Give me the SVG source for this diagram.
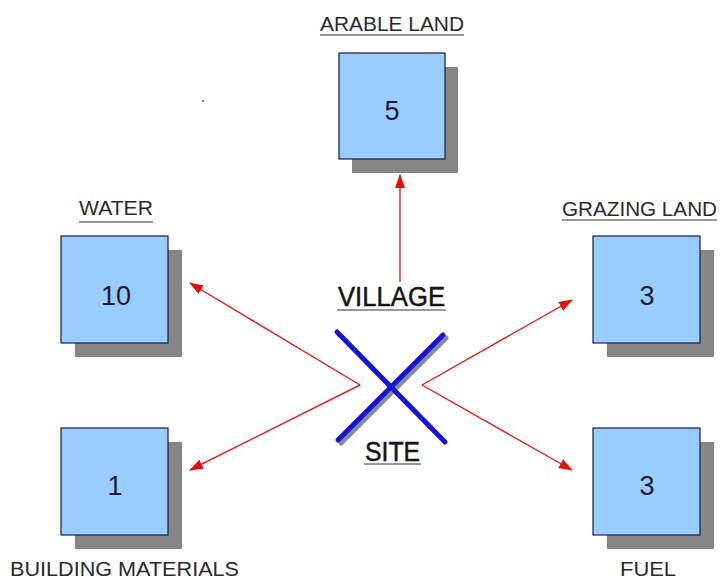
<svg xmlns="http://www.w3.org/2000/svg" width="721" height="581" viewBox="0 0 721 581">
  <style>
    .shadow { fill: #868686; }
    .box { fill: #99ccff; stroke: #1c1c3c; stroke-width: 1.2; }
    .num { font-family: "Liberation Sans", Arial, sans-serif; font-size: 27px; fill: #1a1a33; text-anchor: middle; }
    .label { font-family: "Liberation Sans", Arial, sans-serif; font-size: 20px; fill: #2a2a2a; }
    .title { font-family: "Liberation Sans", Arial, sans-serif; font-size: 27px; fill: #141414; stroke: #141414; stroke-width: 0.5; }
    .uline { stroke: #333; stroke-width: 1.2; }
    .arrow { stroke: #e21d1d; stroke-width: 1.4; fill: none; marker-end: url(#head); }
  </style>
  <defs>
    <marker id="head" viewBox="0 0 14 10" refX="13" refY="5" markerWidth="14" markerHeight="10" markerUnits="userSpaceOnUse" orient="auto">
      <path d="M0,0 L14,5 L0,10 Z" fill="#e80e0e"/>
    </marker>
  </defs>
  <rect width="721" height="581" fill="#ffffff"/>

  <!-- arrows from the site -->
  <g id="connectors">
    <line class="arrow" x1="400" y1="282" x2="400" y2="175"/>
    <polyline class="arrow" points="360,385 190,283"/>
    <polyline class="arrow" points="360,385 190,470"/>
    <polyline class="arrow" points="422,385 572,300"/>
    <polyline class="arrow" points="422,385 572,470"/>
  </g>

  <g id="arable-land">
    <text class="label" x="320" y="31" textLength="144" lengthAdjust="spacingAndGlyphs">ARABLE LAND</text>
    <line class="uline" x1="320" y1="35" x2="464" y2="35"/>
    <rect class="shadow" x="352" y="67" width="106" height="106"/>
    <rect class="box" x="339" y="53" width="106" height="106"/>
    <text class="num" x="392" y="120">5</text>
  </g>

  <g id="water">
    <text class="label" x="79" y="215" textLength="74" lengthAdjust="spacingAndGlyphs">WATER</text>
    <line class="uline" x1="79" y1="222" x2="153" y2="222"/>
    <rect class="shadow" x="75" y="250" width="107" height="107"/>
    <rect class="box" x="61" y="236" width="107" height="107"/>
    <text class="num" x="116" y="305">10</text>
  </g>

  <g id="grazing-land">
    <text class="label" x="562" y="216" textLength="155" lengthAdjust="spacingAndGlyphs">GRAZING LAND</text>
    <line class="uline" x1="562" y1="220" x2="717" y2="220"/>
    <rect class="shadow" x="607" y="250" width="107" height="107"/>
    <rect class="box" x="593" y="236" width="107" height="107"/>
    <text class="num" x="647" y="305">3</text>
  </g>

  <g id="building-materials">
    <rect class="shadow" x="75" y="442" width="107" height="107"/>
    <rect class="box" x="61" y="428" width="107" height="107"/>
    <text class="num" x="115" y="495">1</text>
    <text class="label" x="10" y="576" textLength="229" lengthAdjust="spacingAndGlyphs">BUILDING MATERIALS</text>
  </g>

  <g id="fuel">
    <rect class="shadow" x="607" y="442" width="107" height="107"/>
    <rect class="box" x="593" y="428" width="107" height="107"/>
    <text class="num" x="647" y="495">3</text>
    <text class="label" x="620" y="576" textLength="56" lengthAdjust="spacingAndGlyphs">FUEL</text>
  </g>

  <g id="village-site">
    <text class="title" x="338" y="306" textLength="107" lengthAdjust="spacingAndGlyphs">VILLAGE</text>
    <line class="uline" x1="337" y1="310" x2="446" y2="310"/>
    <line x1="446" y1="338" x2="341" y2="443" stroke="#8a8a9a" stroke-width="5" stroke-linecap="round"/>
    <line x1="443" y1="335" x2="338" y2="440" stroke="#1414d8" stroke-width="5" stroke-linecap="round"/>
    <line x1="337" y1="332" x2="445" y2="442" stroke="#1414d8" stroke-width="5" stroke-linecap="round"/>
    <text class="title" x="365" y="461" textLength="55" lengthAdjust="spacingAndGlyphs">SITE</text>
    <line class="uline" x1="364" y1="464" x2="421" y2="464"/>
  </g>

  <circle cx="203" cy="101" r="0.9" fill="#444"/>
</svg>
